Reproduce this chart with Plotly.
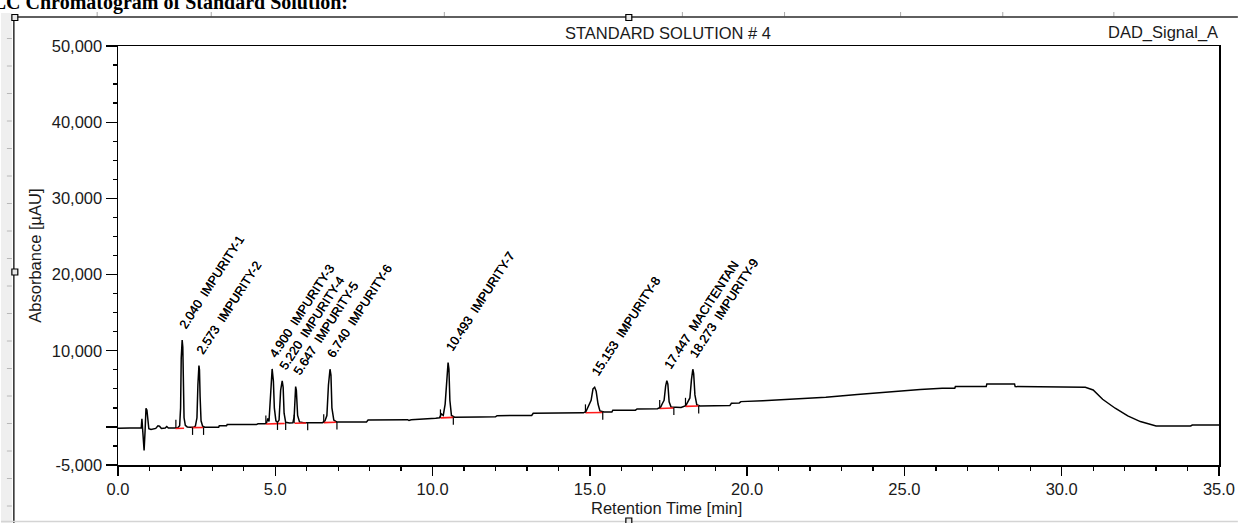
import plotly.graph_objects as go

# ---------------- data ----------------
# chromatogram trace: retention time [min] and absorbance [uAU]
trace_time = [
    0.00, 0.70, 0.74, 0.76, 0.78, 0.80, 0.83, 0.86, 0.89, 0.92, 0.95, 0.98,
    1.05, 1.12, 1.20, 1.27, 1.32, 1.38, 1.50, 1.55, 1.60, 1.80,
    1.84, 1.90, 1.96, 1.99, 2.01, 2.04, 2.06, 2.08, 2.10, 2.14, 2.20, 2.30, 2.40,
    2.46, 2.51, 2.54, 2.573, 2.59, 2.61, 2.64, 2.69, 2.76, 3.00, 3.20, 3.22, 3.45,
    3.47, 4.40, 4.45, 4.68,
    4.72, 4.76, 4.80, 4.86, 4.90, 4.94, 4.97, 5.02, 5.07,
    5.12, 5.17, 5.22, 5.25, 5.28, 5.33, 5.45,
    5.56, 5.60, 5.63, 5.647, 5.67, 5.71, 5.77, 5.90, 6.50,
    6.58, 6.64, 6.69, 6.74, 6.77, 6.80, 6.86, 6.95, 7.90, 7.95, 9.20, 9.25, 9.32, 10.10,
    10.22, 10.28, 10.34, 10.40, 10.46, 10.493, 10.52, 10.55, 10.60, 10.70,
    11.50, 12.00, 12.05, 13.15, 13.20, 14.80,
    14.88, 14.95, 15.04, 15.10, 15.153, 15.20, 15.26, 15.32, 15.45,
    15.70, 15.73, 16.45, 16.50, 17.15,
    17.25, 17.31, 17.36, 17.41, 17.447, 17.48, 17.52, 17.58, 17.70, 17.90,
    18.05, 18.12, 18.18, 18.23, 18.273, 18.30, 18.34, 18.40, 18.50,
    19.45, 19.50, 19.75, 19.80, 20.50, 21.50, 22.50, 23.50, 24.50, 25.50,
    26.20, 26.60, 26.62, 27.60, 27.62, 28.50, 28.52, 30.60, 30.75, 31.00,
    31.30, 31.70, 32.10, 32.50, 32.80, 33.00, 34.10, 34.15, 35.00,
]
trace_signal = [
    -170, -170, -100, 1050, -300, -2000, -3100, -600, 2450, 2200, 600, -250,
    -350, -250, -200, 150, 100, -200, -150, 50, -150, -150,
    -130, -100, 150, 2500, 9000, 11400, 10500, 5000, 1200, 200, 0, -50, -50,
    100, 1200, 5500, 8040, 7500, 4000, 800, 100, -50, -50, -50, 150, 150,
    300, 300, 400, 400,
    500, 1100, 700, 5000, 7610, 6000, 2500, 800, 600,
    900, 4800, 6040, 5200, 1800, 600, 500,
    550, 1300, 4500, 5290, 4800, 1500, 650, 550, 560,
    800, 1500, 5500, 7570, 6800, 2500, 900, 650, 650, 900, 950, 850, 950, 1150,
    1200, 1700, 1500, 3000, 7500, 8440, 7600, 3500, 1500, 1270,
    1300, 1330, 1480, 1500, 1800, 1850,
    2050, 2600, 3500, 5000, 5210, 4700, 3000, 2100, 1950,
    1950, 2200, 2200, 2350, 2400,
    2600, 3100, 3500, 5400, 6070, 5600, 3300, 2600, 2550, 2550,
    2800, 3300, 3800, 6200, 7570, 7000, 4200, 2900, 2750,
    2800, 3100, 3150, 3320, 3450, 3650, 3900, 4250, 4600, 4900,
    5080, 5080, 5290, 5290, 5640, 5640, 5290, 5290, 5200, 4850,
    3630, 2450, 1440, 700, 300, 130, 130, 250, 250,
]

# integration baselines (red)
base_t_start = [1.83, 2.34, 4.70, 5.08, 5.61, 6.54, 10.25, 14.86, 17.22, 18.04]
base_t_end = [2.10, 2.71, 5.08, 5.30, 5.98, 6.93, 10.66, 15.41, 17.67, 18.46]
base_v_start = [-200, -100, 380, 430, 480, 560, 1180, 1850, 2420, 2700]
base_v_end = [-180, -80, 430, 450, 520, 620, 1250, 1900, 2480, 2740]

# peak event markers
mark_up_t = [1.84, 4.70, 5.60, 6.54, 10.25, 14.86, 17.22, 18.04]
mark_up_v = [-150, 400, 500, 560, 1200, 1860, 2420, 2720]
mark_down_t = [2.37, 2.72, 5.07, 5.33, 6.03, 6.96, 10.66, 15.41, 17.67, 18.46]
mark_down_v = [-50, -50, 600, 600, 550, 650, 1270, 1950, 2550, 2750]

# peak labels
peak_rt = [2.040, 2.573, 4.900, 5.220, 5.647, 6.740, 10.493, 15.153, 17.447, 18.273]
peak_height = [11400, 8040, 7610, 6040, 5290, 7570, 8440, 5210, 6070, 7570]
peak_name = ["IMPURITY-1", "IMPURITY-2", "IMPURITY-3", "IMPURITY-4", "IMPURITY-5",
             "IMPURITY-6", "IMPURITY-7", "IMPURITY-8", "MACITENTAN", "IMPURITY-9"]
peak_label_rt = ["2.040", "2.573", "4.900", "5.220", "5.647",
                 "6.740", "10.493", "15.153", "17.447", "18.273"]

x_ticks = [0, 5, 10, 15, 20, 25, 30, 35]
y_ticks = [-5000, 0, 10000, 20000, 30000, 40000, 50000]
y_ticktext = ["-5,000", "", "10,000", "20,000", "30,000", "40,000", "50,000"]

# ---------------- figure ----------------
W, H = 1247, 523
ML, MR, MT, MB = 118, 19, 46, 58
PW, PH = W - ML - MR, H - MT - MB


def px(X):
    return (X - ML) / PW


def py(Y):
    return (H - MB - Y) / PH


FONT = "Liberation Sans, Arial, sans-serif"
TXT = "#1a1a1a"

fig = go.Figure()

fig.add_trace(go.Scatter(
    x=trace_time, y=trace_signal, mode="lines",
    line=dict(color="black", width=1.5), hoverinfo="skip", showlegend=False,
))

rx, ry = [], []
for t0, t1, v0, v1 in zip(base_t_start, base_t_end, base_v_start, base_v_end):
    rx += [t0, t1, None]
    ry += [v0, v1, None]
fig.add_trace(go.Scatter(x=rx, y=ry, mode="lines",
                         line=dict(color="#ff1a1a", width=1.6),
                         hoverinfo="skip", showlegend=False))

MARK_UP, MARK_DOWN = 1100, 1000
mx, my = [], []
for t, v in zip(mark_up_t, mark_up_v):
    mx += [t, t, None]
    my += [v, v + MARK_UP, None]
for t, v in zip(mark_down_t, mark_down_v):
    mx += [t, t, None]
    my += [v, v - MARK_DOWN, None]
fig.add_trace(go.Scatter(x=mx, y=my, mode="lines",
                         line=dict(color="black", width=1.2),
                         hoverinfo="skip", showlegend=False))

annotations = []
for rt, h, lab, name in zip(peak_rt, peak_height, peak_label_rt, peak_name):
    annotations.append(dict(
        x=rt, y=h, xref="x", yref="y", showarrow=False,
        text=lab + "\u00a0\u00a0" + name, textangle=-57,
        xanchor="left", yanchor="bottom", xshift=-8, yshift=6,
        font=dict(family=FONT, size=12.5, color="#000000",
                  shadow="0.35px 0 0 #000"),
    ))

annotations += [
    dict(x=px(671), y=py(508), xref="paper", yref="paper", showarrow=False,
         text="Retention Time [min]", xanchor="center", yanchor="middle",
         font=dict(family=FONT, size=16.5, color=TXT)),
    dict(x=px(34), y=py(256), xref="paper", yref="paper", showarrow=False,
         text="Absorbance [µAU]", textangle=-90, xanchor="center", yanchor="middle",
         font=dict(family=FONT, size=16.5, color=TXT)),
    dict(x=px(672), y=py(33), xref="paper", yref="paper", showarrow=False,
         text="STANDARD SOLUTION # 4", xanchor="center", yanchor="middle",
         font=dict(family=FONT, size=16.5, color=TXT)),
    dict(x=px(1229), y=py(33), xref="paper", yref="paper", showarrow=False,
         text="DAD_Signal_A", xanchor="right", yanchor="middle",
         font=dict(family=FONT, size=16.5, color=TXT)),
    dict(x=px(-38), y=py(16), xref="paper", yref="paper", showarrow=False,
         text="<b>HPLC Chromatogram of Standard Solution:</b>",
         xanchor="left", yanchor="bottom",
         font=dict(family="Liberation Serif, Times New Roman, serif", size=20, color="black")),
]

shapes = []
# left grey strip with ruler ticks
shapes.append(dict(type="rect", xref="paper", yref="paper",
                   x0=px(0), x1=px(11), y0=py(523), y1=py(13),
                   fillcolor="#efefef", line=dict(width=0), layer="below"))
Y = 38.5
while Y < 520:
    shapes.append(dict(type="line", xref="paper", yref="paper",
                       x0=px(6), x1=px(11), y0=py(Y), y1=py(Y),
                       line=dict(color="#b8b8b8", width=1)))
    Y += 27.5
for X in [97, 212, 447, 687, 790, 907, 1010, 1122]:
    shapes.append(dict(type="line", xref="paper", yref="paper",
                       x0=px(X), x1=px(X), y0=py(12), y1=py(16.5),
                       line=dict(color="#a8a8a8", width=1)))
# frame lines
shapes.append(dict(type="line", xref="paper", yref="paper",
                   x0=px(13), x1=px(13), y0=py(17), y1=py(523),
                   line=dict(color="#2a2a2a", width=1.5)))
shapes.append(dict(type="line", xref="paper", yref="paper",
                   x0=px(13), x1=px(1247), y0=py(17), y1=py(17),
                   line=dict(color="#2a2a2a", width=1.5)))
shapes.append(dict(type="line", xref="paper", yref="paper",
                   x0=px(0), x1=px(1247), y0=py(521.5), y1=py(521.5),
                   line=dict(color="#d4d4d4", width=1.5)))
# selection handles
for (hx, hy) in [(14, 17.5), (633, 17.5), (14, 272), (633, 521)]:
    shapes.append(dict(type="rect", xref="paper", yref="paper",
                       x0=px(hx - 3), x1=px(hx + 3), y0=py(hy + 3), y1=py(hy - 3),
                       fillcolor="#e8e8e8", line=dict(color="black", width=1.2)))

axis_common = dict(
    showgrid=False, zeroline=False, showline=True, linecolor="black", linewidth=1.5,
    mirror=True, ticks="outside", tickcolor="black", tickwidth=1.3,
    tickfont=dict(family=FONT, size=16.5, color=TXT),
)

fig.update_layout(
    width=W, height=H,
    margin=dict(l=ML, r=MR, t=MT, b=MB),
    paper_bgcolor="white", plot_bgcolor="white",
    showlegend=False,
    xaxis=dict(range=[0, 35], tickmode="array", tickvals=x_ticks,
               ticktext=[f"{v:.1f}" for v in x_ticks], ticklen=9,
               minor=dict(tickmode="linear", tick0=0, dtick=1, ticklen=4,
                          ticks="outside", tickcolor="black", tickwidth=1.3),
               **axis_common),
    yaxis=dict(range=[-5000, 50000], tickmode="array", tickvals=y_ticks,
               ticktext=y_ticktext, ticklen=11,
               minor=dict(tickmode="linear", tick0=0, dtick=2500, ticklen=4,
                          ticks="outside", tickcolor="black", tickwidth=1.3),
               **axis_common),
    annotations=annotations,
    shapes=shapes,
)

fig.write_html(
    "out.html",
    config={"displayModeBar": False, "staticPlot": True},
    post_script="document.body.style.margin='0';document.body.style.overflow='hidden';",
)
